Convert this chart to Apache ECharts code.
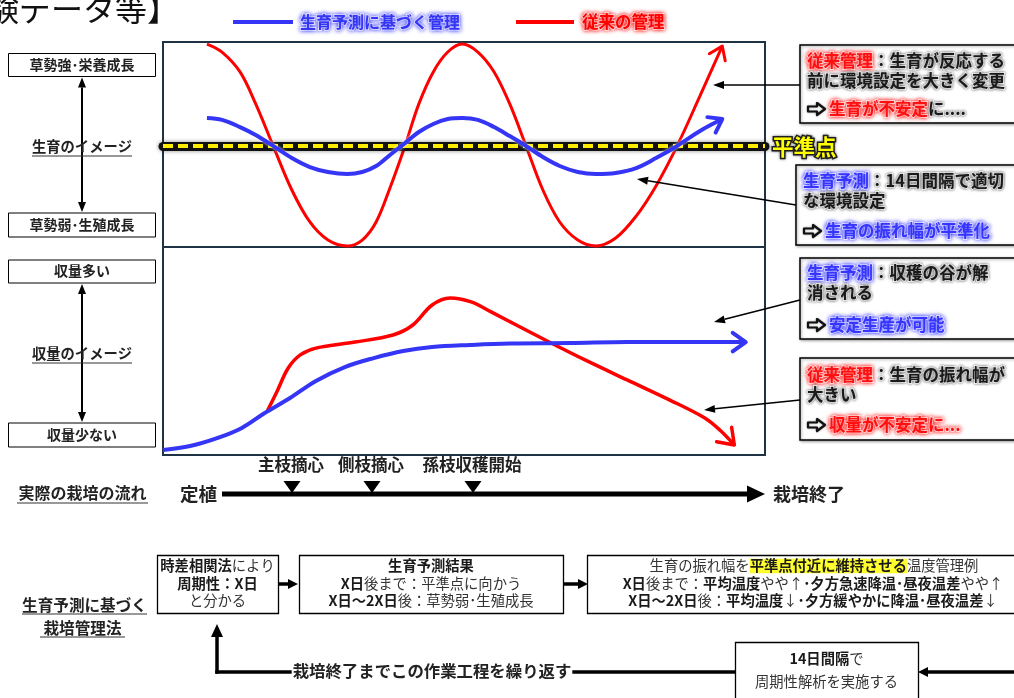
<!DOCTYPE html>
<html><head><meta charset="utf-8">
<script src="https://cdn.jsdelivr.net/npm/echarts@6/dist/echarts.min.js"></script>
<style>html,body{margin:0;padding:0;background:#fff}#c{width:1014px;height:698px}</style>
</head><body><div id="c"></div>
<script>
// ---- data (time 0-100 across the panel; growth 0 = 草勢弱 … 100 = 草勢強; yield 0 = 少ない … 100 = 多い) ----
const growthTime = [7.3, 9.8, 12.8, 15.4, 18.3, 21.4, 24.4, 27.4, 30.6, 33.1, 35.4, 37.7, 40.2, 42.5, 44.9, 47.3, 49.7, 52.3, 55.0, 57.6, 60.3, 63.1, 65.9, 68.9, 71.9, 75.2, 78.6, 81.9, 85.4, 89.2, 92.9];
const growthConventional = [99.0, 95.1, 85.4, 69.8, 49.3, 27.8, 12.2, 3.4, 0.5, 3.4, 12.2, 28.8, 49.3, 69.8, 85.4, 95.1, 99.0, 95.1, 85.4, 69.8, 49.3, 27.8, 12.2, 3.4, 0.5, 4.4, 15.1, 29.8, 49.3, 73.7, 98.0];
const growthPredicted = [62.9, 62.0, 58.5, 54.6, 49.3, 43.4, 39.0, 36.6, 35.6, 36.6, 39.5, 44.9, 50.7, 56.1, 60.0, 62.4, 62.9, 62.0, 58.5, 54.1, 49.3, 43.9, 39.5, 36.6, 35.6, 36.1, 38.5, 43.4, 49.3, 56.6, 62.4];
const levelPoint = 49.3;

const yieldTimePredicted = [0, 4.5, 9.1, 13.1, 16.9, 21.1, 25.4, 30.2, 35.0, 39.9, 44.7, 51.0, 57.6, 67.6, 77.1, 87.5, 96.8];
const yieldPredicted = [2.4, 4.3, 8.2, 13.0, 20.2, 27.4, 35.6, 42.3, 46.6, 50.0, 51.9, 52.9, 53.6, 53.8, 54.3, 54.3, 54.3];
const yieldTimeConventional = [17.3, 18.9, 20.8, 22.8, 25.4, 31.9, 38.2, 41.5, 44.7, 47.7, 51.2, 54.5, 63.5, 70.1, 77.1, 84.2, 90.0, 92.5, 94.9];
const yieldConventional = [21.0, 30.3, 41.8, 48.1, 51.4, 54.3, 57.7, 62.5, 72.1, 75.5, 73.6, 68.8, 55.3, 45.7, 36.1, 26.4, 17.8, 12.0, 4.8];

const seriesNames = ['生育予測に基づく管理', '従来の管理'];

// ---- styling ----
const RED = '#ff0000', BLUE = '#3535f5';
const FF = '"Noto Sans CJK JP","Noto Sans CJK SC",sans-serif';
const f = (s, b) => (b ? 'bold ' : '') + s + 'px ' + FF;
const zip = (xs, ys) => xs.map((x, i) => [x, ys[i]]);

function arrowSeries(xs, ys, axisIdx, color, len, width) {
  const n = xs.length;
  return {
    type: 'custom', xAxisIndex: axisIdx, yAxisIndex: axisIdx, z: 6, silent: true,
    data: [[xs[n - 1], ys[n - 1], xs[n - 2], ys[n - 2]]],
    renderItem: function (params, api) {
      const tip = api.coord([api.value(0), api.value(1)]);
      const from = api.coord([api.value(2), api.value(3)]);
      const ang = Math.atan2(tip[1] - from[1], tip[0] - from[0]);
      const sp = 0.62;
      const a = [tip[0] - len * Math.cos(ang - sp), tip[1] - len * Math.sin(ang - sp)];
      const b = [tip[0] - len * Math.cos(ang + sp), tip[1] - len * Math.sin(ang + sp)];
      return { type: 'polyline', shape: { points: [a, tip, b] },
        style: { stroke: color, lineWidth: width, fill: null, lineCap: 'round', lineJoin: 'round' } };
    }
  };
}

// ---- graphic helpers ----
const G = [];
const txt = (x, y, text, style) => G.push({ type: 'text', x, y, z: 60,
  style: Object.assign({ text, font: f(14, true), fill: '#222', align: 'left', verticalAlign: 'middle' }, style || {}) });
const line = (x1, y1, x2, y2, w, c) => G.push({ type: 'line', z: 55, shape: { x1, y1, x2, y2 }, style: { stroke: c || '#000', lineWidth: w } });
const poly = (pts, c, extra) => G.push({ type: 'polygon', z: 55, shape: { points: pts }, style: Object.assign({ fill: c || '#000' }, extra || {}) });
const rect = (x, y, w, h, extra) => G.push({ type: 'rect', z: 50, shape: { x, y, width: w, height: h },
  style: Object.assign({ fill: '#fff', stroke: '#000', lineWidth: 1 }, extra || {}) });
function arrowLine(x1, y1, x2, y2, w, hl, hw) {
  const a = Math.atan2(y2 - y1, x2 - x1);
  const bx = x2 - hl * Math.cos(a), by = y2 - hl * Math.sin(a);
  const nx = -Math.sin(a) * hw / 2, ny = Math.cos(a) * hw / 2;
  line(x1, y1, bx, by, w);
  poly([[x2, y2], [bx + nx, by + ny], [bx - nx, by - ny]]);
}
function outlineArrow(x0, yc) {
  poly([[x0, yc - 2.5], [x0 + 9, yc - 2.5], [x0 + 9, yc - 6], [x0 + 17, yc], [x0 + 9, yc + 6], [x0 + 9, yc + 2.5], [x0, yc + 2.5]],
    '#fff', { stroke: '#111', lineWidth: 2.2, lineJoin: 'round', shadowBlur: 2, shadowColor: 'rgba(0,0,0,0.4)' });
}

// title (cut off at the left edge)
txt(179, 9, '【試験データ等】', { font: f(32, false), fill: '#111', align: 'right' });

// legend
const glowBlue = { fill: BLUE, stroke: '#fff', lineWidth: 2, textShadowColor: 'rgba(60,60,255,0.85)', textShadowBlur: 4 };
const glowRed = { fill: RED, stroke: '#fff', lineWidth: 2, textShadowColor: 'rgba(255,0,0,0.85)', textShadowBlur: 4 };
line(233, 22, 293, 22, 4, BLUE);
txt(300, 22, seriesNames[0], Object.assign({ font: f(16, true) }, glowBlue));
line(516, 22, 574, 22, 4, RED);
txt(582, 22, seriesNames[1], Object.assign({ font: f(16.5, true) }, glowRed));

// left scales
function sideScale(topLabel, yTop, midLabel, yMid, botLabel, yBot) {
  rect(8.5, yTop - 11, 147, 23);
  txt(82, yTop, topLabel, { align: 'center', font: f(14, true) });
  rect(8.5, yBot - 11, 147, 24);
  txt(82, yBot + 1, botLabel, { align: 'center', font: f(14, true) });
  arrowLine(82, yMid, 82, yTop + 13, 2, 10, 8);
  arrowLine(82, yMid, 82, yBot - 12, 2, 10, 8);
  txt(82, yMid, midLabel, { align: 'center', font: f(14.3, true) });
  line(32, yMid + 9, 132, yMid + 9, 1, '#333');
}
sideScale('草勢強･栄養成長', 64.5, '生育のイメージ', 147, '草勢弱･生殖成長', 224);
sideScale('収量多い', 271, '収量のイメージ', 354, '収量少ない', 434);

// 平準点 label
txt(772, 147, '平準点', { font: f(21.5, true), fill: '#ffff00', stroke: '#222', lineWidth: 3, textShadowColor: 'rgba(0,0,0,0.5)', textShadowBlur: 3 });

// annotation boxes
const annRich = {
  k: { font: f(16.5, true), fill: '#1a1a1a', stroke: '#fff', lineWidth: 2, textShadowColor: 'rgba(0,0,0,0.55)', textShadowBlur: 3 },
  r: { font: f(16.5, true), fill: '#ff1010', stroke: '#fff', lineWidth: 2, textShadowColor: 'rgba(255,0,0,0.85)', textShadowBlur: 4 },
  b: { font: f(16.5, true), fill: '#3535ff', stroke: '#fff', lineWidth: 2, textShadowColor: 'rgba(40,40,255,0.85)', textShadowBlur: 4 }
};
const boxShadow = { lineWidth: 1.5, shadowBlur: 3, shadowColor: 'rgba(0,0,0,0.35)', shadowOffsetX: 1, shadowOffsetY: 1 };
function annBox(x, y, h, l1, l2, l3, ly) {
  rect(x, y, 260, h, boxShadow);
  txt(x + 7, ly[0], l1, { rich: annRich });
  txt(x + 7, ly[1], l2, { rich: annRich });
  outlineArrow(x + 8, ly[2]);
  txt(x + 29, ly[2], l3, { rich: annRich });
}
annBox(800, 45, 78, '{r|従来管理}{k|：生育が反応する}', '{k|前に環境設定を大きく変更}', '{r|生育が不安定}{k|に....}', [61, 81, 109]);
annBox(796, 165, 80, '{b|生育予測}{k|：14日間隔で適切}', '{k|な環境設定}', '{b|生育の振れ幅が平準化}', [181, 201, 231]);
annBox(800, 258, 81, '{b|生育予測}{k|：収穫の谷が解}', '{k|消される}', '{b|安定生産が可能}', [273, 293, 325]);
annBox(800, 358, 82, '{r|従来管理}{k|：生育の振れ幅が}', '{k|大きい}', '{r|収量が不安定に...}', [375, 395, 425]);
arrowLine(800, 85, 713, 85, 1.5, 11, 8);
arrowLine(796, 205, 637, 179, 1.5, 11, 8);
arrowLine(800, 300, 714, 322, 1.5, 11, 8);
arrowLine(800, 400, 704, 410, 1.5, 11, 8);

// actual cultivation timeline
txt(82.5, 493, '実際の栽培の流れ', { align: 'center', font: f(16, true) });
line(17, 503, 148, 503, 1, '#333');
txt(180, 494, '定植', { font: f(18.5, true) });
line(222, 494, 749, 494, 5);
poly([[747, 485.5], [765, 494], [747, 502.5]]);
txt(773, 494, '栽培終了', { font: f(18, true) });
[['主枝摘心', 292], ['側枝摘心', 372], ['孫枝収穫開始', 473]].forEach(function (e) {
  txt(e[1] - 1, 465, e[0], { align: 'center', font: f(16.5, true) });
  poly([[e[1] - 8.5, 481], [e[1] + 8.5, 481], [e[1], 493]]);
});

// management flow
txt(84.5, 605, '生育予測に基づく', { align: 'center', font: f(15.6, true) });
line(22, 614, 147, 614, 1, '#333');
txt(82.5, 628, '栽培管理法', { align: 'center', font: f(15.6, true) });
line(40, 637, 125, 637, 1, '#333');

const flowRich = {
  n: { font: f(14.3, false), fill: '#333' },
  b: { font: f(14.3, true), fill: '#1a1a1a' },
  h: { font: f(14.3, true), fill: '#1a1a1a', backgroundColor: '#ffff30' }
};
rect(157.5, 555.5, 121, 58, { lineWidth: 1.3 });
txt(217.5, 566, '{b|時差相関法}{n|により}', { align: 'center', rich: flowRich });
txt(217.5, 584, '{b|周期性：X日}', { align: 'center', rich: flowRich });
txt(217.5, 601, '{n|と分かる}', { align: 'center', rich: flowRich });
arrowLine(278, 584, 298, 584, 3.5, 10, 10);
rect(299.5, 555.5, 264, 58, { lineWidth: 1.3 });
txt(431, 566, '{b|生育予測結果}', { align: 'center', rich: flowRich });
txt(431, 584, '{b|X日}{n|後まで：平準点に向かう}', { align: 'center', rich: flowRich });
txt(431, 601, '{b|X日～2X日}{n|後：草勢弱･生殖成長}', { align: 'center', rich: flowRich });
arrowLine(563, 584, 588, 584, 3.5, 10, 10);
rect(587.5, 555.5, 450, 58, { lineWidth: 1.3 });
txt(814, 566, '{n|生育の振れ幅を}{h|平準点付近に維持させる}{n|温度管理例}', { align: 'center', rich: flowRich });
txt(813, 584, '{b|X日}{n|後まで：}{b|平均温度}{n|やや↑}{b|･夕方急速降温･昼夜温差}{n|やや↑}', { align: 'center', rich: flowRich });
txt(813, 601, '{b|X日～2X日}{n|後：}{b|平均温度}{n|↓}{b|･夕方緩やかに降温･昼夜温差}{n|↓}', { align: 'center', rich: flowRich });
rect(735.5, 642.5, 183, 60, { lineWidth: 1.3 });
txt(826.5, 659, '{b|14日間隔}{n|で}', { align: 'center', rich: flowRich });
txt(826.5, 682, '{n|周期性解析を実施する}', { align: 'center', rich: flowRich });
arrowLine(1016, 672, 918, 672, 3.5, 10, 10);
line(735, 672, 215.25, 672, 3.5);
arrowLine(217, 673.75, 217, 624, 3.5, 13, 12);
txt(432, 671, '栽培終了までこの作業工程を繰り返す', { align: 'center', font: f(16.4, true), backgroundColor: '#fff', padding: [0, 1] });

// ---- chart ----
const chart = echarts.init(document.getElementById('c'), null, { renderer: 'canvas' });
const gridBase = { left: 163, width: 602, show: true, borderColor: '#1f3344', borderWidth: 2, backgroundColor: '#fff' };
const axX = i => ({ type: 'value', gridIndex: i, min: 0, max: 100, show: false });
const axY = i => ({ type: 'value', gridIndex: i, min: 0, max: 100, show: false });
chart.setOption({
  animation: false,
  grid: [Object.assign({ top: 42, height: 205 }, gridBase), Object.assign({ top: 247, height: 208 }, gridBase)],
  xAxis: [axX(0), axX(1)],
  yAxis: [axY(0), axY(1)],
  series: [
    { type: 'line', xAxisIndex: 0, yAxisIndex: 0, data: [], z: 2,
      markLine: { silent: true, symbol: 'none', label: { show: false }, animation: false,
        lineStyle: { color: '#111', width: 9, type: 'solid', cap: 'round', shadowBlur: 4, shadowColor: 'rgba(0,0,0,0.45)' },
        data: [{ yAxis: levelPoint }] } },
    { type: 'line', xAxisIndex: 0, yAxisIndex: 0, data: [], z: 3,
      markLine: { silent: true, symbol: 'none', label: { show: false }, animation: false,
        lineStyle: { color: '#ffee00', width: 4, type: [10, 5] },
        data: [{ yAxis: levelPoint }] } },
    { name: seriesNames[1], type: 'line', xAxisIndex: 0, yAxisIndex: 0, z: 4, smooth: 0.35, showSymbol: false, silent: true,
      data: zip(growthTime, growthConventional), lineStyle: { color: RED, width: 3 } },
    { name: seriesNames[0], type: 'line', xAxisIndex: 0, yAxisIndex: 0, z: 5, smooth: 0.35, showSymbol: false, silent: true,
      data: zip(growthTime, growthPredicted), lineStyle: { color: BLUE, width: 4, shadowColor: 'rgba(255,255,255,0.9)', shadowBlur: 3 } },
    arrowSeries(growthTime, growthConventional, 0, RED, 15, 3),
    arrowSeries(growthTime, growthPredicted, 0, BLUE, 15, 4),
    { name: seriesNames[1], type: 'line', xAxisIndex: 1, yAxisIndex: 1, z: 4, smooth: 0.35, showSymbol: false, silent: true,
      data: zip(yieldTimeConventional, yieldConventional), lineStyle: { color: RED, width: 3.5 } },
    { name: seriesNames[0], type: 'line', xAxisIndex: 1, yAxisIndex: 1, z: 5, smooth: 0.35, showSymbol: false, silent: true,
      data: zip(yieldTimePredicted, yieldPredicted), lineStyle: { color: BLUE, width: 4 } },
    arrowSeries(yieldTimePredicted, yieldPredicted, 1, BLUE, 16, 4),
    arrowSeries(yieldTimeConventional, yieldConventional, 1, RED, 18, 3.5)
  ],
  graphic: G
});
</script></body></html>
